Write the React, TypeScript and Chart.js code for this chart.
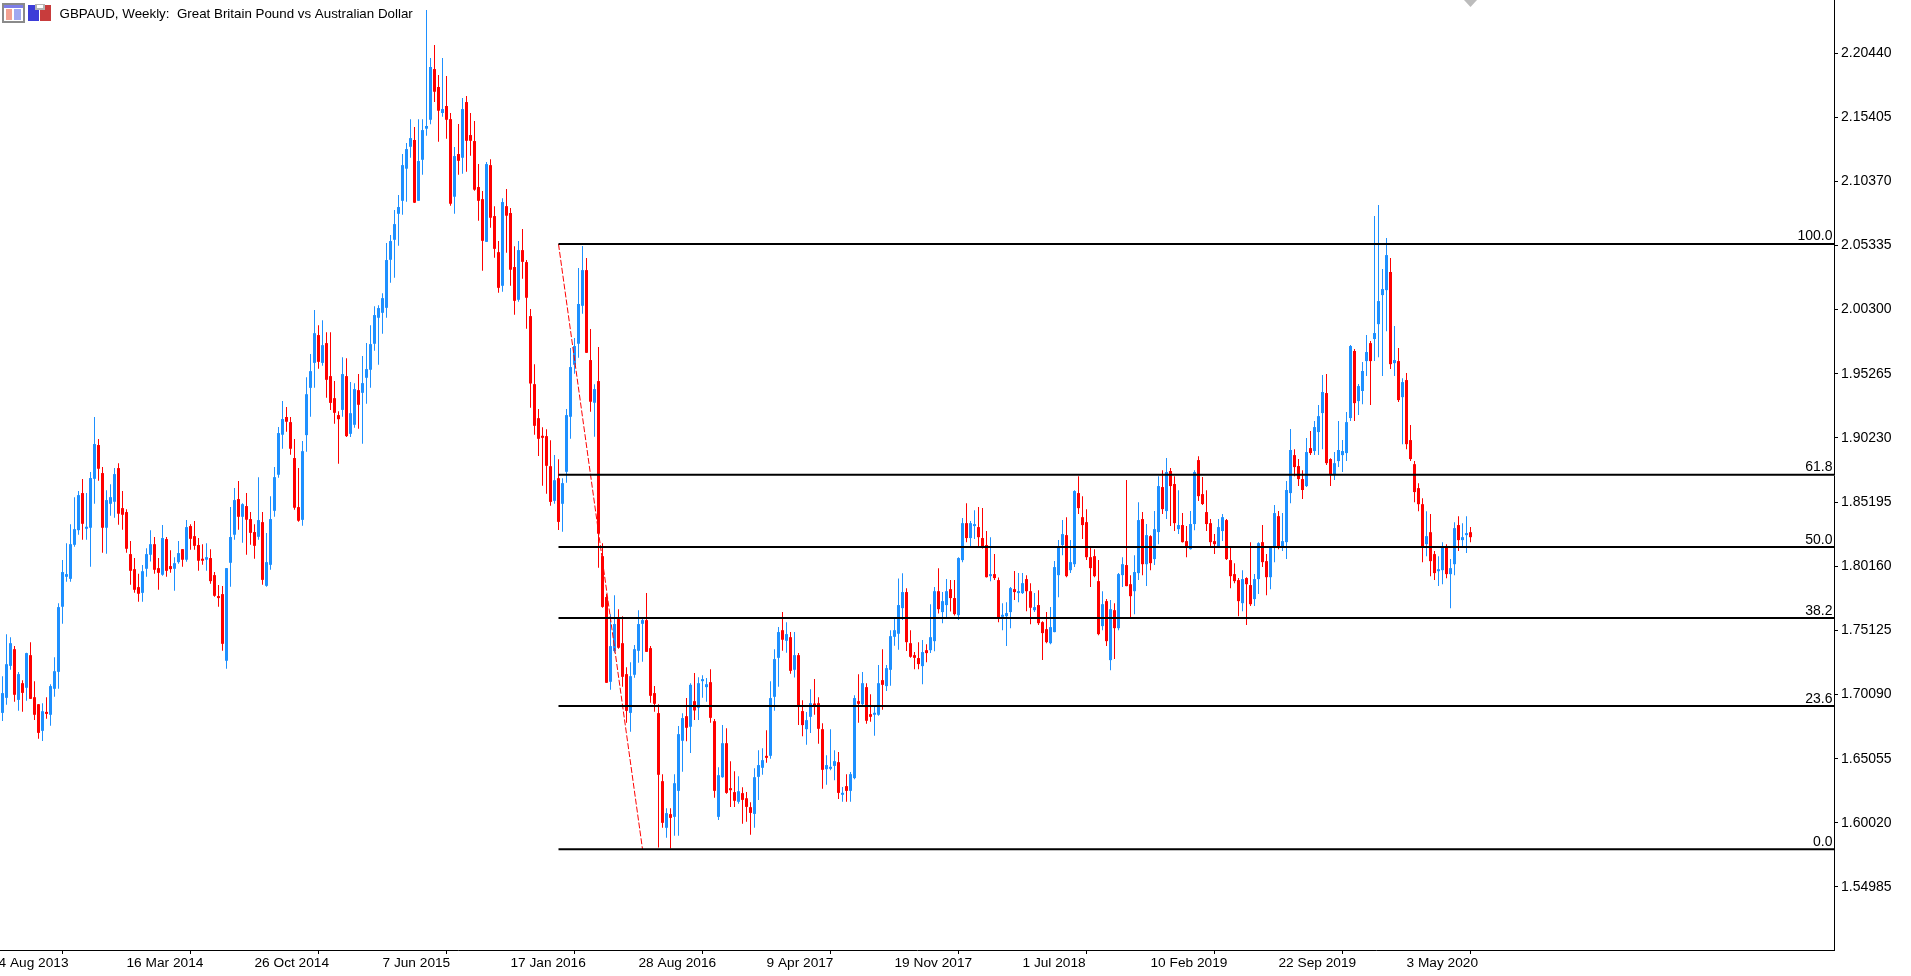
import React, { useEffect, useRef } from "react";
import { Chart, registerables } from "chart.js";

Chart.register(...registerables);

const titleText = "GBPAUD, Weekly:  Great Britain Pound vs Australian Dollar";
const dateLabels = ["4 Aug 2013", "16 Mar 2014", "26 Oct 2014", "7 Jun 2015", "17 Jan 2016", "28 Aug 2016", "9 Apr 2017", "19 Nov 2017", "1 Jul 2018", "10 Feb 2019", "22 Sep 2019", "3 May 2020"];
const dateBars = [-1, 31, 63, 95, 127, 159, 191, 223, 255, 287, 319, 351];
const priceTicks = [2.2044, 2.15405, 2.1037, 2.05335, 2.003, 1.95265, 1.9023, 1.85195, 1.8016, 1.75125, 1.7009, 1.65055, 1.6002, 1.54985];
const fibLabels = ["100.0", "61.8", "50.0", "38.2", "23.6", "0.0"];
const fibPrices = [2.0545, 1.8734, 1.8166, 1.7609, 1.6918, 1.5795];
const trendBars = [139, 160];
const trendPrices = [2.0545, 1.5795];

const opens = [
1.6865,1.6983,1.7234,1.7365,1.6967,1.7098,1.7062,1.7318,1.6988,1.6933,
1.6724,1.6870,1.6850,1.7054,1.7187,1.7698,1.7933,1.7917,1.8184,1.8299,
1.8590,1.8310,1.8318,1.8702,1.8967,1.8747,1.8318,1.8506,1.8522,1.8786,
1.8472,1.8441,1.8111,1.7993,1.7852,1.7807,1.7996,1.8106,1.8189,1.8001,
1.7949,1.8229,1.8017,1.7996,1.8048,1.8150,1.8067,1.8331,1.8252,1.8182,
1.8072,1.8067,1.8080,1.7946,1.7773,1.7797,1.7274,1.8043,1.8263,1.8543,
1.8404,1.8488,1.8386,1.8284,1.8247,1.8362,1.7862,1.8027,1.8451,1.8734,
1.9048,1.9187,1.9147,1.8865,1.8480,1.8380,1.9045,1.9416,1.9612,1.9830,
1.9612,1.9767,1.9508,1.9335,1.9202,1.9243,1.9508,1.9055,1.9126,1.9398,
1.9377,1.9495,1.9558,1.9762,1.9966,2.0005,2.0044,2.0421,2.0578,2.0782,
2.0884,2.1136,2.1308,2.1361,2.0884,2.1206,2.1450,2.1520,2.1918,2.1777,
2.1573,2.1628,2.1525,2.0916,2.1251,2.1222,2.1659,2.1400,2.1353,2.0992,
2.0897,2.0562,2.1164,2.0764,2.0481,2.0217,2.0842,2.0788,2.0364,2.0107,
2.0497,2.0403,1.9979,1.9445,1.9178,1.9037,1.9037,1.8801,1.8529,1.8707,
1.8506,1.8757,1.9189,1.9597,1.9762,2.0060,2.0340,1.9634,1.9299,1.9469,
1.8095,1.7774,1.7109,1.7350,1.7601,1.7412,1.7169,1.6865,1.7164,1.7352,
1.7564,1.7593,1.7373,1.7020,1.6863,1.6329,1.5963,1.6070,1.6049,1.6253,
1.6646,1.6839,1.6756,1.6957,1.6905,1.7114,1.7067,1.7106,1.6800,1.6049,
1.6360,1.6627,1.6274,1.6243,1.6167,1.6235,1.6195,1.6125,1.6072,1.6363,
1.6434,1.6525,1.6528,1.6991,1.7297,1.7514,1.7431,1.7459,1.7203,1.7318,
1.6879,1.6737,1.6834,1.6933,1.6941,1.6737,1.6423,1.6426,1.6449,1.6478,
1.6222,1.6290,1.6253,1.6353,1.6957,1.6933,1.7067,1.6855,1.6850,1.6850,
1.7122,1.7075,1.7203,1.7462,1.7486,1.7687,1.7813,1.7412,1.7318,1.7295,
1.7232,1.7357,1.7357,1.7428,1.7820,1.7656,1.7711,1.7836,1.7766,1.7632,
1.8064,1.8354,1.8237,1.8331,1.8323,1.8237,1.8182,1.7938,1.7954,1.7907,
1.7619,1.7624,1.7656,1.7836,1.7805,1.7805,1.7915,1.7820,1.7671,1.7711,
1.7577,1.7522,1.7412,1.7499,1.7946,1.8182,1.8260,1.7985,1.8032,1.8590,
1.8401,1.8362,1.8087,1.8095,1.7899,1.7546,1.7742,1.7279,1.7671,1.7530,
1.7946,1.8025,1.7875,1.7820,1.7962,1.8386,1.8032,1.8252,1.8072,1.8284,
1.8637,1.8449,1.8763,1.8661,1.8307,1.8339,1.8213,1.8150,1.8347,1.8849,
1.8582,1.8441,1.8354,1.8213,1.8171,1.8292,1.8378,1.8064,1.7954,1.7907,
1.7726,1.7923,1.7868,1.7758,1.7915,1.8205,1.8056,1.7930,1.8166,1.8409,
1.8169,1.8205,1.8590,1.8888,1.8802,1.8700,1.8645,1.8943,1.8920,1.9069,
1.9218,1.9375,1.8857,1.8731,1.8841,1.8888,1.8904,1.9179,1.9705,1.9312,
1.9391,1.9626,1.9767,1.9799,1.9916,2.0144,2.0183,2.0325,1.9610,1.9626,
1.9343,1.9477,1.9006,1.8817,1.8629,1.8503,1.8189,1.8283,1.8111,1.7977,
1.7985,1.8166,1.7954,1.8032,1.8339,1.8221,1.8260,1.8283];

const highs = [
1.7153,1.7483,1.7459,1.7389,1.7185,1.7122,1.7336,1.7420,1.7114,1.6935,
1.6941,1.6988,1.7090,1.7302,1.7726,1.8064,1.8197,1.8346,1.8558,1.8606,
1.8700,1.8590,1.8755,1.9187,1.9014,1.8794,1.8613,1.8660,1.8786,1.8825,
1.8606,1.8464,1.8213,1.8080,1.7957,1.8025,1.8158,1.8299,1.8245,1.8080,
1.8339,1.8245,1.8142,1.8087,1.8213,1.8152,1.8378,1.8346,1.8370,1.8237,
1.8189,1.8197,1.8150,1.7970,1.7868,1.7860,1.8003,1.8480,1.8629,1.8684,
1.8511,1.8590,1.8441,1.8346,1.8715,1.8441,1.8276,1.8566,1.8794,1.9108,
1.9312,1.9265,1.9187,1.9014,1.8786,1.8998,1.9500,1.9681,2.0026,1.9908,
1.9947,1.9853,1.9853,1.9469,1.9233,1.9657,1.9649,1.9461,1.9453,1.9524,
1.9665,1.9767,1.9908,2.0057,2.0065,2.0159,2.0552,2.0615,2.0811,2.0929,
2.1251,2.1337,2.1525,2.1463,2.1525,2.1525,2.2381,2.2004,2.2106,2.1871,
2.2004,2.1863,2.1573,2.1306,2.1486,2.1690,2.1706,2.1573,2.1510,2.1172,
2.0960,2.1188,2.1211,2.0842,2.0568,2.0905,2.0976,2.0827,2.0528,2.0568,
2.0662,2.0419,2.0034,1.9602,1.9249,1.9107,1.9092,1.9005,1.8888,1.8856,
1.8707,1.9249,1.9728,1.9807,2.0356,2.0529,2.0435,1.9877,1.9445,1.9736,
1.8197,1.7797,1.7640,1.7789,1.7679,1.7624,1.7224,1.7263,1.7397,1.7671,
1.7617,1.7805,1.7389,1.7075,1.6933,1.6384,1.6117,1.6117,1.6384,1.6761,
1.6863,1.6981,1.7098,1.7177,1.7145,1.7161,1.7138,1.7208,1.6816,1.6439,
1.6769,1.6745,1.6486,1.6407,1.6368,1.6282,1.6243,1.6164,1.6431,1.6572,
1.6588,1.6729,1.7114,1.7365,1.7538,1.7656,1.7577,1.7499,1.7499,1.7334,
1.6965,1.6871,1.7051,1.7130,1.6988,1.6784,1.6533,1.6737,1.6572,1.6557,
1.6284,1.6384,1.6400,1.7004,1.7169,1.7185,1.7098,1.7012,1.6918,1.7240,
1.7365,1.7240,1.7514,1.7601,1.7920,1.7960,1.7844,1.7514,1.7342,1.7420,
1.7436,1.7404,1.7718,1.7852,1.8001,1.7813,1.7915,1.7907,1.7907,1.8087,
1.8394,1.8511,1.8370,1.8456,1.8480,1.8472,1.8292,1.8244,1.8111,1.7928,
1.7726,1.7734,1.7852,1.7978,1.7962,1.7962,1.7946,1.7883,1.7805,1.7828,
1.7585,1.7656,1.7695,1.8056,1.8221,1.8378,1.8401,1.8221,1.8613,1.8723,
1.8566,1.8464,1.8166,1.8150,1.8064,1.7820,1.7758,1.7750,1.7726,1.7962,
1.8087,1.8692,1.7946,1.8103,1.8519,1.8441,1.8347,1.8260,1.8449,1.8723,
1.8770,1.8865,1.8786,1.8723,1.8613,1.8433,1.8331,1.8449,1.8770,1.8880,
1.8716,1.8613,1.8386,1.8268,1.8386,1.8425,1.8386,1.8166,1.8040,1.7923,
1.7985,1.7930,1.8205,1.7954,1.8205,1.8339,1.8111,1.8170,1.8496,1.8449,
1.8433,1.8684,1.9093,1.8935,1.8857,1.8770,1.9022,1.9077,1.9155,1.9281,
1.9517,1.9524,1.8864,1.8912,1.9155,1.9006,1.9226,1.9752,1.9720,1.9446,
1.9618,1.9830,1.9783,2.0764,2.0851,2.0348,2.0592,2.0435,1.9901,1.9728,
1.9492,1.9532,1.9124,1.8841,1.8668,1.8550,1.8448,1.8425,1.8135,1.8095,
1.8205,1.8189,1.8072,1.8362,1.8409,1.8354,1.8409,1.8323];

const lows = [
1.6802,1.6928,1.7203,1.6952,1.6881,1.6873,1.6960,1.6973,1.6810,1.6661,
1.6645,1.6818,1.6763,1.6991,1.7054,1.7564,1.7894,1.7894,1.8168,1.8263,
1.8224,1.8224,1.8012,1.8506,1.8687,1.8121,1.8113,1.8412,1.8396,1.8341,
1.8302,1.8121,1.7870,1.7807,1.7737,1.7737,1.7933,1.8053,1.7957,1.7831,
1.7941,1.7933,1.7964,1.7823,1.8035,1.8012,1.8051,1.8145,1.8145,1.7980,
1.8027,1.7980,1.7878,1.7776,1.7698,1.7352,1.7211,1.7855,1.8224,1.8302,
1.8200,1.8106,1.8184,1.8074,1.8224,1.7870,1.7855,1.7988,1.8404,1.8710,
1.8938,1.9071,1.8891,1.8459,1.8365,1.8333,1.8914,1.9189,1.9416,1.9565,
1.9589,1.9338,1.9243,1.9134,1.8820,1.9189,1.9031,1.9031,1.9102,1.9094,
1.8977,1.9291,1.9416,1.9707,1.9597,1.9840,1.9966,2.0241,2.0280,2.0531,
2.0774,2.0876,2.1222,2.0866,2.0882,2.1088,2.1395,2.1484,2.1659,2.1348,
2.1544,2.1371,2.0845,2.0782,2.1088,2.1096,2.1112,2.1238,2.0963,2.0727,
2.0335,2.0560,2.0672,2.0437,2.0162,2.0170,2.0476,2.0217,1.9989,2.0091,
2.0272,1.9879,1.9259,1.9047,1.8882,1.8647,1.8584,1.8490,1.8506,1.8301,
1.8286,1.8671,1.9016,1.9527,1.9652,1.9998,1.9689,1.9228,1.9032,1.8004,
1.7690,1.7099,1.7046,1.7336,1.7368,1.7070,1.6787,1.6716,1.7140,1.7258,
1.7266,1.7342,1.6944,1.6873,1.5808,1.5963,1.5884,1.5800,1.5900,1.5900,
1.6402,1.6643,1.6551,1.6810,1.6810,1.6983,1.6952,1.6787,1.6198,1.6025,
1.6355,1.6230,1.6127,1.6127,1.6151,1.5994,1.6010,1.5908,1.5963,1.6182,
1.6379,1.6473,1.6504,1.6881,1.7070,1.7352,1.7336,1.7172,1.7143,1.6769,
1.6682,1.6614,1.6708,1.6850,1.6622,1.6269,1.6300,1.6415,1.6337,1.6190,
1.6167,1.6167,1.6167,1.6345,1.6787,1.6918,1.6779,1.6795,1.6685,1.6842,
1.6889,1.7036,1.7077,1.7391,1.7360,1.7593,1.7350,1.7297,1.7208,1.7208,
1.7090,1.7263,1.7334,1.7349,1.7645,1.7569,1.7616,1.7661,1.7629,1.7593,
1.8048,1.8205,1.8171,1.8229,1.8169,1.8155,1.7928,1.7899,1.7907,1.7577,
1.7514,1.7389,1.7530,1.7750,1.7734,1.7797,1.7663,1.7561,1.7656,1.7554,
1.7279,1.7412,1.7404,1.7497,1.7773,1.8103,1.7930,1.7962,1.8009,1.8425,
1.8229,1.8064,1.7852,1.7930,1.7475,1.7514,1.7389,1.7200,1.7287,1.7514,
1.7852,1.7858,1.7616,1.7640,1.7907,1.7946,1.7860,1.7985,1.8025,1.8189,
1.8425,1.8386,1.8331,1.8292,1.8268,1.8203,1.8087,1.8148,1.8299,1.8527,
1.8496,1.8292,1.8174,1.8111,1.8166,1.8213,1.8064,1.7844,1.7883,1.7624,
1.7663,1.7554,1.7703,1.7703,1.7797,1.8009,1.7789,1.7836,1.8048,1.8150,
1.8135,1.8072,1.8511,1.8723,1.8645,1.8543,1.8637,1.8888,1.8888,1.8888,
1.8935,1.8810,1.8645,1.8692,1.8794,1.8755,1.8841,1.9155,1.9155,1.9202,
1.9288,1.9508,1.9281,1.9626,1.9657,1.9508,1.9861,1.9563,1.9508,1.9304,
1.8974,1.8935,1.8841,1.8519,1.8448,1.8048,1.8095,1.7938,1.7907,1.7860,
1.7875,1.7922,1.7687,1.7946,1.8135,1.8166,1.8119,1.8205];

const closes = [
1.7020,1.7247,1.7412,1.7007,1.7169,1.7022,1.7334,1.6975,1.6850,1.6708,
1.6878,1.6857,1.7075,1.7192,1.7695,1.7970,1.7954,1.8189,1.8307,1.8574,
1.8349,1.8323,1.8708,1.8975,1.8781,1.8318,1.8535,1.8558,1.8739,1.8428,
1.8420,1.8153,1.7980,1.7831,1.7800,1.7977,1.8111,1.8189,1.7988,1.7964,
1.8237,1.7980,1.7993,1.8040,1.8119,1.8067,1.8323,1.8231,1.8176,1.8059,
1.8059,1.8087,1.7899,1.7784,1.7766,1.7407,1.8001,1.8245,1.8535,1.8404,
1.8503,1.8381,1.8278,1.8176,1.8378,1.7909,1.8048,1.8386,1.8715,1.9061,
1.9171,1.9150,1.8938,1.8475,1.8373,1.8919,1.9366,1.9547,1.9845,1.9620,
1.9751,1.9479,1.9298,1.9220,1.9170,1.9524,1.9037,1.9217,1.9406,1.9283,
1.9453,1.9563,1.9759,1.9987,2.0042,2.0120,2.0419,2.0568,2.0701,2.0835,
2.1164,2.1290,2.1376,2.0869,2.1196,2.1439,2.1471,2.1934,2.1740,2.1591,
2.1604,2.1520,2.0861,2.1235,2.1198,2.1604,2.1355,2.1355,2.0971,2.0884,
2.0570,2.1172,2.0751,2.0507,2.0201,2.0874,2.0767,2.0343,2.0099,2.0497,
2.0405,2.0123,1.9450,1.9118,1.9016,1.9024,1.8804,1.8521,1.8691,1.8364,
1.8668,1.9202,1.9579,1.9744,2.0074,2.0340,1.9691,1.9307,1.9406,1.8271,
1.7697,1.7101,1.7389,1.7562,1.7376,1.7148,1.6881,1.7153,1.7365,1.7562,
1.7593,1.7344,1.6999,1.6936,1.6379,1.6002,1.6078,1.6041,1.6313,1.6698,
1.6824,1.6748,1.7085,1.6884,1.7098,1.7122,1.7090,1.6826,1.6253,1.6376,
1.6627,1.6237,1.6258,1.6175,1.6250,1.6182,1.6127,1.6080,1.6360,1.6455,
1.6494,1.6512,1.6981,1.7287,1.7499,1.7439,1.7483,1.7195,1.7318,1.6918,
1.6769,1.6808,1.6941,1.6923,1.6740,1.6418,1.6455,1.6439,1.6486,1.6237,
1.6235,1.6253,1.6384,1.6981,1.6936,1.7098,1.6803,1.6834,1.6863,1.7098,
1.7085,1.7216,1.7467,1.7514,1.7711,1.7813,1.7420,1.7305,1.7297,1.7248,
1.7342,1.7334,1.7459,1.7820,1.7679,1.7742,1.7820,1.7766,1.7640,1.8080,
1.8354,1.8237,1.8354,1.8339,1.8244,1.8166,1.7930,1.7954,1.7923,1.7611,
1.7632,1.7648,1.7844,1.7813,1.7820,1.7883,1.7820,1.7690,1.7695,1.7569,
1.7491,1.7420,1.7538,1.8009,1.8166,1.8268,1.7938,1.8048,1.8606,1.8472,
1.8339,1.8087,1.8001,1.7938,1.7483,1.7718,1.7428,1.7679,1.7530,1.7954,
1.8032,1.7860,1.7781,1.7970,1.8378,1.8032,1.8260,1.8040,1.8307,1.8645,
1.8464,1.8755,1.8645,1.8354,1.8339,1.8205,1.8166,1.8347,1.8755,1.8566,
1.8504,1.8347,1.8205,1.8189,1.8323,1.8401,1.8072,1.7938,1.7899,1.7742,
1.7915,1.7875,1.7718,1.7915,1.8197,1.8048,1.7930,1.8166,1.8433,1.8166,
1.8213,1.8614,1.8928,1.8794,1.8700,1.8614,1.8912,1.8904,1.9108,1.9194,
1.9383,1.8825,1.8731,1.8825,1.8928,1.8920,1.9147,1.9744,1.9296,1.9430,
1.9548,1.9697,1.9626,1.9846,2.0097,2.0191,2.0458,1.9602,1.9634,1.9320,
1.9461,1.8974,1.8857,1.8598,1.8503,1.8173,1.8252,1.8056,1.7962,1.7985,
1.8166,1.7954,1.8001,1.8315,1.8221,1.8244,1.8275,1.8244];

const UP = "#1e90ff";
const DOWN = "#ff0000";
const FONT = '"Liberation Sans", sans-serif';
const X_MIN = -0.625;
const X_MAX = 457.875;
const Y_MIN = 1.50039;
const Y_MAX = 2.246;

const noScalePadding = (s: any) => {
  s.paddingTop = 0;
  s.paddingBottom = 0;
  s.paddingLeft = 0;
  s.paddingRight = 0;
};

const overlay = {
  id: "overlay",
  afterDraw(chart: any) {
    const { ctx, scales } = chart;
    ctx.save();
    // fib level captions
    ctx.fillStyle = "#000";
    ctx.font = `14px ${FONT}`;
    ctx.textAlign = "right";
    ctx.textBaseline = "alphabetic";
    fibLabels.forEach((t, i) => {
      ctx.fillText(t, 1832.5, scales.y.getPixelForValue(fibPrices[i]) - 3.5);
    });
    // chart heading
    ctx.textAlign = "left";
    ctx.textBaseline = "middle";
    ctx.font = `13.35px ${FONT}`;
    ctx.fillText(titleText, 59.5, 14.5);
    // toolbar icon 1
    ctx.fillStyle = "#8a8a8a";
    ctx.fillRect(2, 3, 23, 20);
    ctx.fillStyle = "#ffffff";
    ctx.fillRect(4, 5, 19, 16);
    ctx.fillStyle = "#7d7de8";
    ctx.fillRect(4, 5, 19, 3);
    ctx.fillStyle = "#f2a090";
    ctx.fillRect(6, 9, 6, 11);
    ctx.fillStyle = "#a0a8f0";
    ctx.fillRect(14, 9, 7, 11);
    // toolbar icon 2
    ctx.fillStyle = "#3c3cd8";
    ctx.fillRect(28, 5, 11, 16);
    ctx.fillStyle = "#c83c3c";
    ctx.fillRect(40, 5, 11, 16);
    ctx.fillStyle = "#b4b4b4";
    ctx.fillRect(35, 4, 10, 6);
    ctx.fillStyle = "#ffffff";
    ctx.fillRect(37, 5, 6, 3);
    // chart shift marker
    ctx.fillStyle = "#bcbcbc";
    ctx.beginPath();
    ctx.moveTo(1464, 0);
    ctx.lineTo(1477, 0);
    ctx.lineTo(1470.5, 7);
    ctx.closePath();
    ctx.fill();
    ctx.restore();
  },
};

export default function App() {
  const ref = useRef<HTMLCanvasElement | null>(null);
  useEffect(() => {
    const canvas = ref.current;
    if (!canvas) return;
    const bodyData = opens.map((o, i) => ({ x: i, y: [o, closes[i]] }));
    const wickData = lows.map((l, i) => ({ x: i, y: [l, highs[i]] }));
    const colors = opens.map((o, i) => (closes[i] >= o ? UP : DOWN));
    const fibSets = fibPrices.map((p, i) => ({
      type: "line",
      label: fibLabels[i],
      data: [{ x: trendBars[0], y: p }, { x: X_MAX, y: p }],
      borderColor: "#000",
      borderWidth: 2,
      pointRadius: 0,
      order: 0,
    }));
    const chart = new Chart(canvas, {
      type: "bar",
      data: {
        datasets: [
          {
            type: "bar",
            label: "wick",
            data: wickData,
            backgroundColor: colors,
            barThickness: 1,
            grouped: false,
            inflateAmount: 0,
            order: 3,
          },
          {
            type: "bar",
            label: "body",
            data: bodyData,
            backgroundColor: colors,
            barThickness: 3,
            minBarLength: 2,
            grouped: false,
            inflateAmount: 0,
            order: 2,
          },
          {
            type: "line",
            label: "trend",
            data: trendBars.map((b, i) => ({ x: b, y: trendPrices[i] })),
            borderColor: DOWN,
            borderWidth: 1,
            borderDash: [6, 2],
            pointRadius: 0,
            order: 1,
          },
          ...fibSets,
        ] as any,
      },
      options: {
        responsive: false,
        animation: false,
        devicePixelRatio: 1,
        layout: { padding: 0 },
        plugins: { legend: { display: false }, tooltip: { enabled: false }, title: { display: false } },
        scales: {
          x: {
            type: "linear",
            min: X_MIN,
            max: X_MAX,
            offset: false,
            afterFit: (s: any) => { s.height = 26; noScalePadding(s); },
            afterBuildTicks: (s: any) => { s.ticks = dateBars.map((v) => ({ value: v })); },
            grid: { drawOnChartArea: false, drawTicks: true, tickLength: 4, tickColor: "#000" },
            border: { color: "#000", width: 1 },
            ticks: {
              autoSkip: false,
              maxRotation: 0,
              minRotation: 0,
              align: "start",
              padding: 1,
              color: "#000",
              font: { family: FONT, size: 13.7 },
              callback: (_v: any, i: number) => dateLabels[i],
            },
          },
          y: {
            type: "linear",
            position: "right",
            min: Y_MIN,
            max: Y_MAX,
            afterFit: (s: any) => { s.width = 77; noScalePadding(s); },
            afterBuildTicks: (s: any) => { s.ticks = priceTicks.map((v) => ({ value: v })); },
            grid: { drawOnChartArea: false, drawTicks: true, tickLength: 4, tickColor: "#000" },
            border: { color: "#000", width: 1 },
            ticks: {
              autoSkip: false,
              padding: 3,
              color: "#000",
              font: { family: FONT, size: 14 },
              callback: (v: any) => Number(v).toFixed(5),
            },
          },
        },
      } as any,
      plugins: [overlay],
    } as any);
    return () => chart.destroy();
  }, []);
  return (
    <div style={{ position: "fixed", left: 0, top: 0, width: 1911, height: 976, background: "#fff", overflow: "hidden" }}>
      <canvas ref={ref} width={1911} height={976} style={{ display: "block", width: 1911, height: 976 }} />
    </div>
  );
}
